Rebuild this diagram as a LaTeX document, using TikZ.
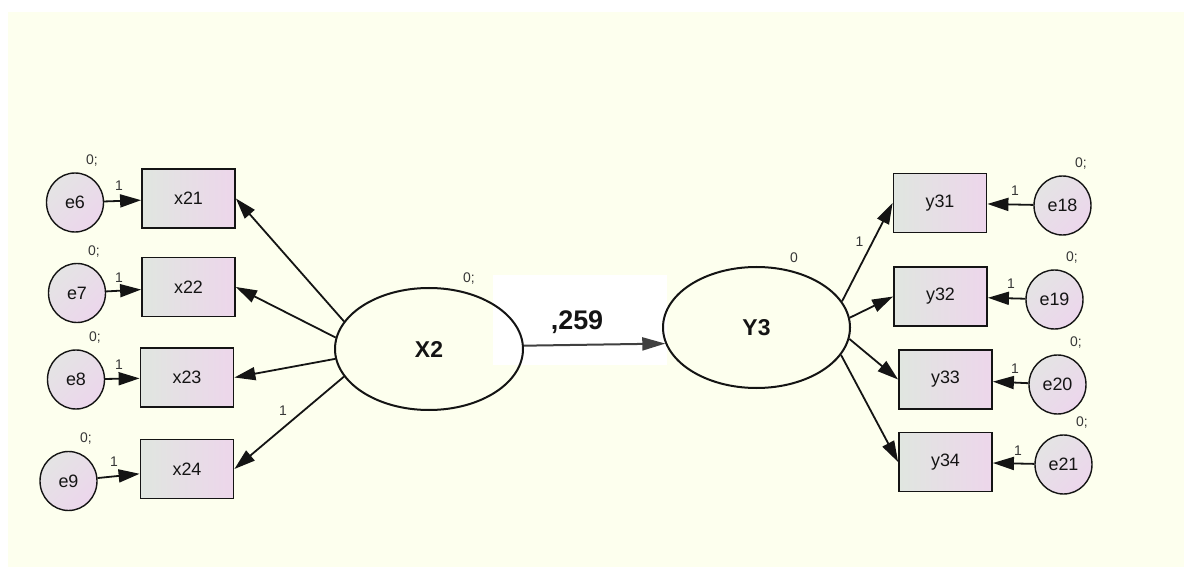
\documentclass[tikz,border=0pt]{standalone}
\usepackage{fontspec}
\setmainfont{Liberation Sans}
\usetikzlibrary{shapes.geometric,arrows.meta}
\definecolor{bg}{RGB}{253,255,238}
\definecolor{boxL}{RGB}{224,230,224}
\definecolor{boxR}{RGB}{237,214,235}
\definecolor{errL}{RGB}{228,228,228}
\definecolor{errR}{RGB}{236,214,236}
\definecolor{ink}{RGB}{20,20,20}
\definecolor{lab}{RGB}{55,55,55}
\definecolor{pathc}{RGB}{64,64,64}
\tikzset{
  obs/.style={draw=ink, line width=1.8bp, rectangle, minimum width=93bp, minimum height=59bp,
    left color=boxL, right color=boxR, font=\fontsize{18}{18}\selectfont, text=ink, inner sep=0pt},
  err/.style={draw=ink, line width=1.4bp, ellipse, minimum width=57bp, minimum height=59bp,
    top color=errL, bottom color=errR, shading angle=45, font=\fontsize{18}{18}\selectfont, text=ink, inner sep=0pt},
  lat/.style={draw=ink, line width=2bp, ellipse, minimum width=188bp, minimum height=122bp,
    font=\bfseries\fontsize{23}{23}\selectfont, text=ink, inner sep=0pt},
  lbl/.style={font=\fontsize{14}{14}\selectfont, text=lab, inner sep=0pt},
  arr/.style={draw=ink, line width=1.8bp, -{Triangle[length=21bp,width=13bp]}},
  sarr/.style={draw=pathc, line width=2bp, -{Triangle[length=23bp,width=13bp]}},
}
\begin{document}
\begin{tikzpicture}[x=1bp,y=-1bp]
\useasboundingbox (0,0) rectangle (1184,567);
\fill[white] (-5,-5) rectangle (1190,575);
\fill[bg] (8,12) rectangle (1190,575);
\fill[white] (493,275) rectangle (667,365);

% observed variables
\node[obs] (x21) at (188.5,198.5) {x21};
\node[obs] (x22) at (188.5,287) {x22};
\node[obs] (x23) at (187,377.5) {x23};
\node[obs] (x24) at (187,469) {x24};
\node[obs] (y31) at (940,203) {y31};
\node[obs] (y32) at (940.5,296.5) {y32};
\node[obs] (y33) at (945.5,379.5) {y33};
\node[obs] (y34) at (945.5,462) {y34};

% errors
\node[err] (e6) at (75,202.5) {e6};
\node[err] (e7) at (77,293) {e7};
\node[err] (e8) at (76,379.5) {e8};
\node[err] (e9) at (68.5,481) {e9};
\node[err] (e18) at (1062.5,205.5) {e18};
\node[err] (e19) at (1054.5,299.5) {e19};
\node[err] (e20) at (1057.5,384.5) {e20};
\node[err] (e21) at (1063.5,464.5) {e21};

% latent
\node[lat] (X2) at (429,349) {X2};
\node[lat, minimum width=187bp, minimum height=121bp] (Y3) at (756.5,327.5) {Y3};

% error arrows
\draw[arr] (e6) -- (x21);
\draw[arr] (e7) -- (x22);
\draw[arr] (e8) -- (x23);
\draw[arr] (e9) -- (x24);
\draw[arr] (e18) -- (y31);
\draw[arr] (e19) -- (y32);
\draw[arr] (e20) -- (y33);
\draw[arr] (e21) -- (y34);

% loadings
\draw[arr] (X2.162) -- (x21.east);
\draw[arr] (X2.173) -- (x22.east);
\draw[arr] (X2.186) -- (x23.east);
\draw[arr] (X2.198) -- (x24.east);
\draw[arr] (Y3.17) -- (y31.west);
\draw[arr] (Y3.6.5) -- (y32.west);
\draw[arr] (Y3.-7) -- (y33.west);
\draw[arr] (Y3.-18) -- (y34.west);

% structural path
\draw[sarr] (X2.2) -- (Y3.190);
\node[font=\bfseries\fontsize{27}{27}\selectfont, text=ink, inner sep=0pt] (coef) at (577,322) {,259};

% labels
\node[lbl] (v6) at (92,161) {0;};
\node[lbl] (v7) at (94,252) {0;};
\node[lbl] (v8) at (95,338) {0;};
\node[lbl] (v9) at (86,439) {0;};
\node[lbl] (w6) at (119,186) {1};
\node[lbl] (w7) at (119,277.5) {1};
\node[lbl] (w8) at (119,365) {1};
\node[lbl] (w9) at (114,462) {1};
\node[lbl] (wx24) at (283,411) {1};
\node[lbl] (v18) at (1081,164) {0;};
\node[lbl] (v19) at (1072,258) {0;};
\node[lbl] (v20) at (1076,343) {0;};
\node[lbl] (v21) at (1082,423) {0;};
\node[lbl] (w18) at (1015,191) {1};
\node[lbl] (w19) at (1011,284) {1};
\node[lbl] (w20) at (1015,369) {1};
\node[lbl] (w21) at (1018,451) {1};
\node[lbl] (wy31) at (859.5,241.5) {1};
\node[lbl] (vX2) at (469,279) {0;};
\node[lbl] (vY3) at (794,257.5) {0};
\end{tikzpicture}
\end{document}
